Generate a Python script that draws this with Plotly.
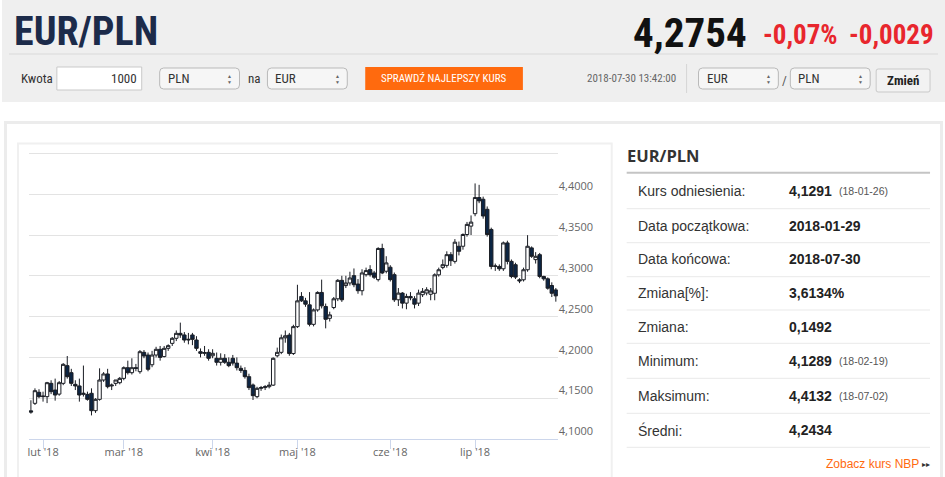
import pandas as pd
import plotly.graph_objects as go

W, H = 945, 477

# trading days on the chart (weekdays 29 Jan - 30 Jul 2018)
days = pd.bdate_range("2018-01-29", "2018-07-30")

open_ = [4.1345, 4.1437, 4.1572, 4.1519, 4.1519, 4.1682, 4.1600, 4.1550, 4.1682, 4.1899,
         4.1813, 4.1670, 4.1650, 4.1547, 4.1547, 4.1560, 4.1347, 4.1486, 4.1723, 4.1797,
         4.1650, 4.1682, 4.1690, 4.1743, 4.1874, 4.1813, 4.1874, 4.1825, 4.2062, 4.2029,
         4.1910, 4.2029, 4.2099, 4.2010, 4.2111, 4.2172, 4.2234, 4.2295, 4.2275, 4.2213,
         4.2275, 4.2213, 4.2070, 4.2050, 4.2062, 4.2020, 4.1989, 4.1940, 4.1989, 4.1940,
         4.1989, 4.1930, 4.1866, 4.1840, 4.1764, 4.1662, 4.1519, 4.1621, 4.1630, 4.1641,
         4.1660, 4.2020, 4.2062, 4.2240, 4.2274, 4.2047, 4.2377, 4.2747, 4.2693, 4.2644,
         4.2405, 4.2582, 4.2796, 4.2624, 4.2479, 4.2611, 4.2718, 4.2944, 4.2880, 4.2912,
         4.3002, 4.2899, 4.2817, 4.3014, 4.3076, 4.3035, 4.2953, 4.3335, 4.3056, 4.3105,
         4.3014, 4.2706, 4.2788, 4.2665, 4.2747, 4.2718, 4.2665, 4.2768, 4.2790, 4.2774,
         4.2786, 4.3012, 4.3103, 4.3128, 4.3259, 4.3177, 4.3362, 4.3362, 4.3506, 4.3609,
         4.3761, 4.3959, 4.3938, 4.3815, 4.3568, 4.3115, 4.3115, 4.3086, 4.3403, 4.3177,
         4.3136, 4.2951, 4.2951, 4.3074, 4.3342, 4.3198, 4.3259, 4.2992, 4.2963, 4.2881,
         4.2827]
high = [4.1475, 4.1621, 4.1610, 4.1580, 4.1700, 4.1720, 4.1740, 4.1710, 4.1930, 4.2017,
        4.1860, 4.1720, 4.1740, 4.1900, 4.1580, 4.1621, 4.1500, 4.1866, 4.1820, 4.1860,
        4.1680, 4.1720, 4.1760, 4.1890, 4.1960, 4.1989, 4.1920, 4.2090, 4.2090, 4.2060,
        4.2080, 4.2130, 4.2140, 4.2140, 4.2160, 4.2250, 4.2330, 4.2426, 4.2310, 4.2300,
        4.2300, 4.2260, 4.2110, 4.2140, 4.2100, 4.2100, 4.2060, 4.2050, 4.2040, 4.2000,
        4.2030, 4.2000, 4.1900, 4.1880, 4.1800, 4.1680, 4.1640, 4.1650, 4.1660, 4.1700,
        4.2000, 4.2120, 4.2280, 4.2330, 4.2300, 4.2400, 4.2890, 4.2800, 4.2730, 4.2800,
        4.2600, 4.2810, 4.2953, 4.2660, 4.2560, 4.2740, 4.2960, 4.3000, 4.3000, 4.3050,
        4.3090, 4.2960, 4.3080, 4.3100, 4.3130, 4.3060, 4.3350, 4.3393, 4.3240, 4.3130,
        4.3040, 4.2850, 4.2800, 4.2780, 4.2800, 4.2750, 4.2830, 4.2850, 4.2860, 4.2850,
        4.3030, 4.3100, 4.3200, 4.3300, 4.3290, 4.3450, 4.3420, 4.3520, 4.3660, 4.3740,
        4.4132, 4.4115, 4.3970, 4.3850, 4.3590, 4.3150, 4.3140, 4.3420, 4.3430, 4.3200,
        4.3160, 4.2970, 4.3100, 4.3498, 4.3360, 4.3290, 4.3280, 4.3000, 4.2980, 4.2920,
        4.2850]
low = [4.1310, 4.1417, 4.1500, 4.1458, 4.1440, 4.1550, 4.1470, 4.1530, 4.1660, 4.1740,
       4.1650, 4.1600, 4.1458, 4.1520, 4.1470, 4.1289, 4.1320, 4.1470, 4.1700, 4.1620,
       4.1600, 4.1650, 4.1670, 4.1720, 4.1790, 4.1790, 4.1830, 4.1800, 4.1990, 4.1830,
       4.1880, 4.2000, 4.1960, 4.2000, 4.2080, 4.2140, 4.2200, 4.2240, 4.2180, 4.2160,
       4.2150, 4.2080, 4.2000, 4.2020, 4.1960, 4.1990, 4.1900, 4.1900, 4.1920, 4.1880,
       4.1900, 4.1840, 4.1810, 4.1740, 4.1600, 4.1478, 4.1500, 4.1590, 4.1600, 4.1620,
       4.1650, 4.2000, 4.2040, 4.2180, 4.2020, 4.2030, 4.2360, 4.2680, 4.2620, 4.2380,
       4.2380, 4.2560, 4.2600, 4.2356, 4.2440, 4.2590, 4.2690, 4.2680, 4.2850, 4.2880,
       4.2860, 4.2780, 4.2760, 4.2990, 4.2990, 4.2960, 4.2930, 4.3020, 4.3030, 4.2930,
       4.2680, 4.2630, 4.2600, 4.2590, 4.2700, 4.2600, 4.2630, 4.2740, 4.2760, 4.2700,
       4.2700, 4.2990, 4.3080, 4.3100, 4.3120, 4.3150, 4.3250, 4.3320, 4.3480, 4.3500,
       4.3730, 4.3890, 4.3700, 4.3480, 4.3080, 4.3060, 4.3060, 4.3060, 4.3140, 4.2970,
       4.2960, 4.2910, 4.2930, 4.3050, 4.3220, 4.3150, 4.2970, 4.2940, 4.2830, 4.2740,
       4.2683]
close = [4.1330, 4.1592, 4.1519, 4.1525, 4.1690, 4.1580, 4.1539, 4.1690, 4.1915, 4.1764,
         4.1682, 4.1650, 4.1539, 4.1560, 4.1486, 4.1347, 4.1486, 4.1723, 4.1797, 4.1641,
         4.1660, 4.1723, 4.1743, 4.1874, 4.1813, 4.1874, 4.1866, 4.2070, 4.2017, 4.1854,
         4.2029, 4.2099, 4.2000, 4.2111, 4.2144, 4.2234, 4.2295, 4.2275, 4.2213, 4.2221,
         4.2221, 4.2111, 4.2050, 4.2058, 4.1989, 4.2050, 4.1940, 4.1989, 4.1940, 4.1899,
         4.1930, 4.1874, 4.1840, 4.1764, 4.1630, 4.1531, 4.1621, 4.1630, 4.1641, 4.1660,
         4.1989, 4.2062, 4.2240, 4.2265, 4.2047, 4.2377, 4.2693, 4.2693, 4.2652, 4.2405,
         4.2582, 4.2796, 4.2632, 4.2467, 4.2521, 4.2718, 4.2944, 4.2706, 4.2912, 4.2973,
         4.2891, 4.2817, 4.3035, 4.3064, 4.3014, 4.2982, 4.3335, 4.3035, 4.3158, 4.2953,
         4.2706, 4.2788, 4.2665, 4.2747, 4.2730, 4.2652, 4.2788, 4.2809, 4.2829, 4.2815,
         4.3012, 4.3074, 4.3136, 4.3259, 4.3185, 4.3412, 4.3300, 4.3506, 4.3630, 4.3658,
         4.3959, 4.3918, 4.3733, 4.3506, 4.3115, 4.3120, 4.3086, 4.3403, 4.3177, 4.2992,
         4.2984, 4.2938, 4.3074, 4.3362, 4.3239, 4.3239, 4.2992, 4.2963, 4.2848, 4.2786,
         4.2754]

month_ticks = ["2018-02-01", "2018-03-01", "2018-04-02", "2018-05-01", "2018-06-01", "2018-07-02"]
month_labels = ["lut '18", "mar '18", "kwi '18", "maj '18", "cze '18", "lip '18"]
y_ticks = [4.10, 4.15, 4.20, 4.25, 4.30, 4.35, 4.40, 4.45]
y_labels = ["4,1000", "4,1500", "4,2000", "4,2500", "4,3000", "4,3500", "4,4000", ""]

stat_names = ["Kurs odniesienia:", "Data początkowa:", "Data końcowa:", "Zmiana[%]:",
              "Zmiana:", "Minimum:", "Maksimum:", "Średni:"]
stat_values = ["4,1291", "2018-01-29", "2018-07-30", "3,6134%", "0,1492", "4,1289", "4,4132", "4,2434"]
stat_dates = ["(18-01-26)", "", "", "", "", "(18-02-19)", "(18-07-02)", ""]
row_y = [191, 225.5, 259, 293, 327, 360.5, 395.5, 430]
row_lines = [208.7, 242.7, 276.7, 310, 343.3, 378.3, 413.3, 447.3]

NAVY = "#0c2544"
EDGE = "#1a1d24"
NARROW = "Liberation Sans Narrow, Roboto Condensed, Roboto, sans-serif"
ARIAL = "Liberation Sans, Arial, sans-serif"


def px(x):
    return x / W


def py(y):
    return 1 - y / H


def rect(x0, y0, x1, y1, fill=None, line=None, lw=1, layer="below"):
    return dict(type="rect", xref="paper", yref="paper", x0=px(x0), x1=px(x1), y0=py(y1), y1=py(y0),
                fillcolor=fill or "rgba(0,0,0,0)", line=dict(color=line or "rgba(0,0,0,0)", width=lw if line else 0),
                layer=layer)


def hline(x0, x1, y, color, lw=1):
    return dict(type="line", xref="paper", yref="paper", x0=px(x0), x1=px(x1), y0=py(y), y1=py(y),
                line=dict(color=color, width=lw), layer="below")


def rrect(x0, y0, x1, y1, r, fill, line):
    p = (f"M{px(x0 + r)},{py(y0)} L{px(x1 - r)},{py(y0)} Q{px(x1)},{py(y0)} {px(x1)},{py(y0 + r)} "
         f"L{px(x1)},{py(y1 - r)} Q{px(x1)},{py(y1)} {px(x1 - r)},{py(y1)} "
         f"L{px(x0 + r)},{py(y1)} Q{px(x0)},{py(y1)} {px(x0)},{py(y1 - r)} "
         f"L{px(x0)},{py(y0 + r)} Q{px(x0)},{py(y0)} {px(x0 + r)},{py(y0)} Z")
    return dict(type="path", xref="paper", yref="paper", path=p, fillcolor=fill,
                line=dict(color=line, width=1), layer="below")


def txt(x, y, s, size, color="#333", family=ARIAL, weight="normal", anchor="left"):
    return dict(x=px(x), y=py(y), xref="paper", yref="paper", text=s, showarrow=False,
                xanchor=anchor, yanchor="middle", borderpad=0,
                font=dict(size=size, color=color, family=family, weight=weight))


fig = go.Figure()
fig.add_trace(go.Candlestick(
    x=[d + pd.Timedelta(hours=12) for d in days],
    open=open_, high=high, low=low, close=close,
    increasing=dict(fillcolor="white", line=dict(color=EDGE, width=1)),
    decreasing=dict(fillcolor=NAVY, line=dict(color=EDGE, width=1)),
    whiskerwidth=0, showlegend=False, hoverinfo="skip",
))

shapes = [
    rect(0, 0, W, 102, fill="#efefef"),
    hline(7, 938, 54, "#d9d9d9"),
    rect(55, 67, 140, 90, fill="white", line="#c9c9c9"),
    rrect(158, 68, 238, 89, 4, "#f6f6f6", "#b9b9b9"),
    rrect(266, 68, 346, 89, 4, "#f6f6f6", "#b9b9b9"),
    rect(364, 67, 522, 90, fill="#ff6a0e"),
    dict(type="line", xref="paper", yref="paper", x0=px(686), x1=px(686), y0=py(93), y1=py(64),
         line=dict(color="#d6d6d6", width=1), layer="below"),
    rrect(698, 68, 778, 89, 4, "#f6f6f6", "#b9b9b9"),
    rrect(790, 68, 870, 89, 4, "#f6f6f6", "#b9b9b9"),
    rrect(876, 69, 930, 92, 2, "#f2f2f2", "#c9c9c9"),
    rect(3.5, 122.5, 941.5, 500, line="#ececec", lw=3),
    rect(16, 143.5, 611, 500, line="#f0f0f0", lw=2),
    hline(626, 930, 172.7, "#c4c4c4", 2),
]
for yy in row_lines:
    shapes.append(hline(626, 930, yy, "#e9e9e9"))

ann = [
    txt(11, 31, "EUR/PLN", 40, "#1c2b4a", NARROW, "bold"),
    txt(748, 33, "4,2754", 41, "#111111", NARROW, "bold", "right"),
    txt(839, 35, "-0,07%", 27, "#e8262d", NARROW, "bold", "right"),
    txt(935, 35, "-0,0029", 27, "#e8262d", NARROW, "bold", "right"),
    txt(18, 78.5, "Kwota", 13, "#333", NARROW),
    txt(136, 78.5, "1000", 13, "#333", NARROW, anchor="right"),
    txt(165, 78.5, "PLN", 13, "#333", NARROW),
    txt(246, 78.5, "na", 13, "#333", NARROW),
    txt(273, 78.5, "EUR", 13, "#333", NARROW),
    txt(443, 78.5, "SPRAWDŹ NAJLEPSZY KURS", 11, "white", NARROW, anchor="center"),
    txt(676, 78.5, "2018-07-30 13:42:00", 11, "#666", NARROW, anchor="right"),
    txt(705, 78.5, "EUR", 13, "#333", NARROW),
    txt(784, 80, "/", 13, "#555", NARROW, anchor="center"),
    txt(797, 78.5, "PLN", 13, "#333", NARROW),
    txt(903, 80, "Zmień", 13, "#222", NARROW, "bold", "center"),
    txt(625, 156, "EUR/PLN", 16.5, "#333", "Open Sans", "bold"),
    txt(825, 463.5, "Zobacz kurs NBP", 12, "#ff6a0e", ARIAL),
    txt(921, 464, "▸▸", 8, "#333", ARIAL),
]
for xa in (228, 336, 768, 860):
    ann.append(txt(xa, 75.5, "▲", 5, "#666", ARIAL, anchor="center"))
    ann.append(txt(xa, 81.5, "▼", 5, "#666", ARIAL, anchor="center"))
for name, val, dt, yy in zip(stat_names, stat_values, stat_dates, row_y):
    ann.append(txt(636, yy, name, 14, "#333", ARIAL))
    ann.append(txt(788, yy, val, 14, "#222", ARIAL, "bold"))
    if dt:
        ann.append(txt(838, yy, dt, 10.5, "#555", ARIAL))

fig.update_layout(
    width=W, height=H, margin=dict(l=0, r=0, t=0, b=0),
    paper_bgcolor="white", plot_bgcolor="white",
    boxgap=0.1, boxgroupgap=0.06,
    shapes=shapes, annotations=ann,
    xaxis=dict(
        domain=[px(27), px(557)], type="date",
        rangebreaks=[dict(bounds=["sat", "mon"])],
        range=["2018-01-29 00:15", "2018-07-30 23:45"],
        rangeslider=dict(visible=False),
        tickvals=[t + " 12:00" for t in month_ticks], ticktext=month_labels,
        ticks="outside", ticklen=9, tickcolor="#ccd6eb", ticklabelstandoff=-6,
        showline=True, linecolor="#ccd6eb", linewidth=1, showgrid=False,
        tickfont=dict(family="Open Sans", size=11, color="#666"),
    ),
    yaxis=dict(
        domain=[py(439), py(150)], side="right",
        range=[4.1, 4.1 + 289 / 816],
        tickvals=y_ticks, ticktext=y_labels, ticks="",
        ticklabelposition="outside top",
        showgrid=True, gridcolor="#e3e3e3", gridwidth=1, zeroline=False,
        tickfont=dict(family="Open Sans", size=11, color="#666"),
    ),
)

# the page's default body margin would push the figure 8px off its place
fig.write_html("out.html", config={"displayModeBar": False},
               post_script="document.body.style.margin='0';")
